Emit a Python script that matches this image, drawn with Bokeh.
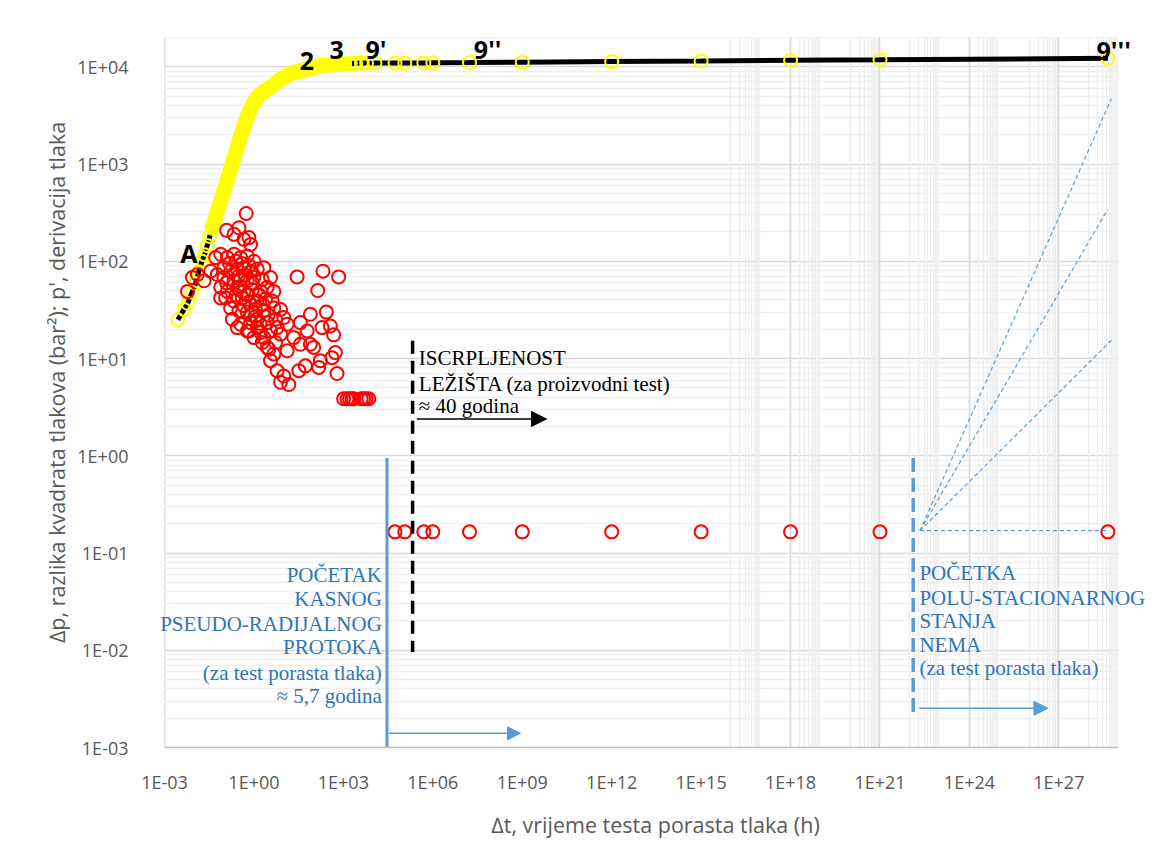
from bokeh.plotting import figure
from bokeh.models import (Range1d, FixedTicker, Grid, CustomJSTickFormatter, Label,
                          Arrow, NormalHead, BoxAnnotation)
from bokeh.embed import file_html
from bokeh.resources import INLINE

# ---------------- data ----------------
# pressure-squared difference (yellow), buildup time in hours
yellow_t = [0.0028, 0.0045, 0.006, 0.0085, 0.011, 0.014, 0.018, 0.022, 0.027, 0.033,
            0.04, 0.05, 0.06, 0.072, 0.087, 0.1, 0.12, 0.145, 0.17, 0.2,
            0.24, 0.29, 0.35, 0.42, 0.5, 0.6, 0.72, 0.85, 1.0, 1.2,
            1.5, 1.9, 2.4, 3.2, 4.0, 5.5, 7.5, 10, 15, 22,
            35, 55, 90, 150, 250, 400, 700, 1100, 1700, 2600,
            4000, 6000, 11500, 5.4e4, 1.15e5, 5.0e5, 1.0e6, 1.7e7, 1e9, 1e12,
            1e15, 1e18, 1e21, 4.4e28]
yellow_dp = [25, 32, 37, 48, 59, 78, 100, 117, 145, 180,
             220, 275, 330, 390, 470, 540, 640, 780, 920, 1090,
             1300, 1570, 1880, 2250, 2650, 3080, 3500, 3900, 4300, 4700,
             5100, 5430, 5690, 6030, 6310, 6760, 7410, 7760, 8320, 8710,
             9020, 9440, 9770, 10200, 10350, 10500, 10600, 10700, 10800, 10850,
             10900, 10900, 10900, 10900, 10950, 10950, 11000, 11050, 11150, 11300,
             11450, 11650, 11800, 12200]

# pressure derivative (red)
red_t = [0.0059, 0.0086, 0.0127, 0.0212, 0.0354, 0.052,
         0.55, 0.121, 0.314, 0.214, 0.678, 0.461, 0.771,
         28, 207, 693, 138,
         78, 268, 472, 366, 192, 36, 101, 537, 415, 169, 53, 149, 611, 32, 10, 14.8,
         7.8, 6.0, 3.6, 4.65, 2.78, 2.15, 7.8, 13, 21.7, 61, 13, 36, 78,
         0.0766, 0.128, 0.214, 0.357, 0.597, 1.0, 0.099, 0.165, 0.276, 0.461,
         0.771, 1.29, 2.15, 0.059, 0.099, 0.214, 0.357, 0.597, 1.0, 1.89,
         3.6, 0.0766, 0.128, 0.276, 0.461, 0.877, 1.67, 2.78, 4.65, 0.214,
         0.406, 0.678, 1.29, 2.45, 4.1, 0.165, 0.314, 0.597, 1.13, 2.15,
         4.65, 7.8, 0.188, 0.357, 0.771, 1.29, 2.78, 5.3, 10, 0.276,
         0.597, 1.67, 3.6, 6.0, 1.89, 3.16, 5.3, 1.29, 0.112, 0.0766,
         0.678, 1.0,
         0.15, 0.25, 0.4, 0.3, 0.5, 0.7, 0.9, 0.12, 0.35, 0.6, 1.5, 2.0, 1.1,
         0.45, 0.25, 3.0, 0.8, 1.6,
         1020, 1320, 1610, 1950, 2200, 3960, 4770, 5750, 7100,
         5.4e4, 1.15e5, 5.0e5, 1.0e6, 1.7e7, 1e9, 1e12, 1e15, 1e18, 1e21, 4.4e28]
red_dp = [49, 68, 73, 63, 79, 109,
          310, 208, 221, 189, 175, 168, 149,
          69, 79, 69, 50,
          28.5, 30, 17.5, 21.6, 20.8, 23.4, 13.0, 11.5, 10.2, 9.5, 8.4, 8.1, 7.0, 7.5, 6.6, 5.4,
          5.7, 7.5, 9.5, 11.1, 13.0, 16.4, 17.8, 22.5, 16.4, 19.2, 12.0, 14.0, 14.0,
          118, 109, 118, 109, 113, 100, 86, 79, 83, 86,
          79, 83, 86, 73, 68, 63, 65, 63, 68, 65,
          68, 54, 49, 54, 49, 51, 49, 54, 49, 39,
          42, 38, 39, 41, 39, 33, 31, 30, 32, 31,
          33, 32, 25.3, 22.5, 23.4, 20.8, 23.4, 25.3, 26.4, 20.8,
          19.2, 18.5, 19.2, 20.8, 14.6, 12.5, 14.6, 25.3, 42, 42,
          19.2, 16.4,
          95, 100, 95, 70, 72, 90, 60, 60, 55, 45, 45, 36, 27,
          35, 45, 28, 28, 23,
          3.85, 3.85, 3.85, 3.85, 3.85, 3.85, 3.85, 3.85, 3.85,
          0.165, 0.165, 0.165, 0.165, 0.165, 0.165, 0.165, 0.165, 0.165, 0.165, 0.165]

x_ticks = [1e-3, 1e0, 1e3, 1e6, 1e9, 1e12, 1e15, 1e18, 1e21, 1e24, 1e27]
x_tick_labels = ["1E-03", "1E+00", "1E+03", "1E+06", "1E+09", "1E+12", "1E+15",
                 "1E+18", "1E+21", "1E+24", "1E+27"]
y_ticks = [1e-3, 1e-2, 1e-1, 1e0, 1e1, 1e2, 1e3, 1e4]
y_tick_labels = ["1E-03", "1E-02", "1E-01", "1E+00", "1E+01", "1E+02", "1E+03", "1E+04"]

X_MIN, X_MAX = 1e-3, 1e29      # axis extent
Y_MIN, Y_MAX = 1e-3, 2e4

# ---------------- figure ----------------
# the frame is a little larger than the axes (room for texts that overhang the axes);
# the overhang is blanked out below
p = figure(width=1174, height=864, x_axis_type="log", y_axis_type="log",
           x_range=Range1d(3.39e-4, 2.565e30), y_range=Range1d(Y_MIN, 32100),
           output_backend="svg", toolbar_location=None,
           min_border_left=150, min_border_right=14, min_border_top=17, min_border_bottom=117)
p.outline_line_color = None
p.background_fill_color = "white"
p.border_fill_color = "white"

# grids
y_minor = [k * 10.0 ** n for n in range(-3, 5) for k in range(2, 10) if k * 10.0 ** n <= Y_MAX]
p.ygrid.ticker = FixedTicker(ticks=y_ticks, minor_ticks=y_minor)
p.ygrid.grid_line_color = "#D9D9D9"
p.ygrid.grid_line_width = 1.5
p.ygrid.minor_grid_line_color = "#F0F0F0"
p.ygrid.minor_grid_line_width = 1.5
p.xgrid.visible = False
x_minor_grid = [k * 10.0 ** n for n in (16, 18, 20, 22, 24, 26, 28) for k in range(1, 10)]
p.add_layout(Grid(dimension=0, ticker=FixedTicker(ticks=x_minor_grid),
                  grid_line_color="#EEEEEE", grid_line_width=1.5))
p.add_layout(Grid(dimension=0, ticker=FixedTicker(ticks=[1e18, 1e21, 1e24, 1e27]),
                  grid_line_color="#D9D9D9", grid_line_width=1.5))
# blank the overhang outside the axis extent (covers grid lines only)
for kw in (dict(left=X_MAX), dict(right=X_MIN), dict(bottom=Y_MAX * 1.003)):
    p.add_layout(BoxAnnotation(fill_color="white", fill_alpha=1.0, line_alpha=0,
                               level="underlay", **kw))
# left axis line at the axis minimum
p.segment(x0=[X_MIN], y0=[Y_MIN], x1=[X_MIN], y1=[Y_MAX], line_color="#BFBFBF",
          line_width=1.5, level="underlay")

fmt_code = """
let best = 0, d = 1e9;
for (let i = 0; i < tvals.length; i++) {
  const dd = Math.abs(Math.log10(tvals[i]) - Math.log10(tick));
  if (dd < d) { d = dd; best = i; }
}
return tlabels[best];
"""
p.xaxis.ticker = FixedTicker(ticks=x_ticks, minor_ticks=[])
p.yaxis.ticker = FixedTicker(ticks=y_ticks, minor_ticks=[])
p.xaxis.formatter = CustomJSTickFormatter(args=dict(tvals=x_ticks, tlabels=x_tick_labels), code=fmt_code)
p.yaxis.formatter = CustomJSTickFormatter(args=dict(tvals=y_ticks, tlabels=y_tick_labels), code=fmt_code)
p.xaxis.bounds = (X_MIN, X_MAX)
p.yaxis.bounds = (Y_MIN, Y_MAX)

for ax in (p.xaxis[0], p.yaxis[0]):
    ax.major_tick_line_color = None
    ax.minor_tick_line_color = None
    ax.axis_line_color = "#BFBFBF"
    ax.axis_line_width = 1.5
    ax.major_label_text_font = "Open Sans"
    ax.major_label_text_font_size = "18px"
    ax.major_label_text_color = "#595959"
    ax.axis_label_text_font = "Open Sans"
    ax.axis_label_text_font_size = "21.5px"
    ax.axis_label_text_font_style = "normal"
    ax.axis_label_text_color = "#595959"
p.yaxis.axis_line_color = None

p.xaxis.axis_label = "∆t, vrijeme testa porasta tlaka (h)"
p.yaxis.axis_label = "∆p, razlika kvadrata tlakova (bar²); p', derivacija tlaka"
p.xaxis.major_label_standoff = 16
p.yaxis.major_label_standoff = 16
p.xaxis.axis_label_standoff = 13
p.yaxis.axis_label_standoff = 3

# ---------------- series ----------------
band = [(t, v) for t, v in zip(yellow_t, yellow_dp) if 0.04 <= t <= 1100]
p.line(yellow_t, yellow_dp, line_color="black", line_width=5)
p.line([b[0] for b in band], [b[1] for b in band], line_color="#FFFF00", line_width=15,
       line_join="round", line_cap="round")
p.scatter(yellow_t, yellow_dp, marker="circle", size=13, fill_color=None,
          line_color="#FFFF00", line_width=2)
p.scatter(red_t, red_dp, marker="circle", size=13, fill_color=None,
          line_color="#FF0000", line_width=2)

# ---------------- annotations ----------------
BLUE = "#5B9BD5"
TBLUE = "#2E75B6"
p.segment(x0=[2.9e4], y0=[0.95], x1=[2.9e4], y1=[1e-3], line_color=BLUE, line_width=3)
p.segment(x0=[2.1e5], y0=[15.2], x1=[2.1e5], y1=[0.0096], line_color="black",
          line_width=3.5, line_dash="13 7")
p.segment(x0=[1.3e22], y0=[0.95], x1=[1.3e22], y1=[0.00204], line_color=BLUE,
          line_width=3.5, line_dash="14 6")
fan_x0 = 2.2e22
fan_y0 = 0.17
p.segment(x0=[fan_x0] * 4, y0=[fan_y0] * 4,
          x1=[5.8e28, 4.3e28, 6.3e28, 4.0e28], y1=[4700, 340, 15.8, 0.17],
          line_color=BLUE, line_width=1.2, line_dash="4 3")

p.add_layout(Arrow(end=NormalHead(size=15, fill_color="black", line_color="black"),
                   x_start=2.9e5, y_start=2.39, x_end=6.5e9, y_end=2.39,
                   line_color="black", line_width=1.5))
p.add_layout(Arrow(end=NormalHead(size=13, fill_color=BLUE, line_color=BLUE),
                   x_start=3.35e4, y_start=0.0014, x_end=8.7e8, y_end=0.0014,
                   line_color=BLUE, line_width=1.5))
p.add_layout(Arrow(end=NormalHead(size=14, fill_color=BLUE, line_color=BLUE),
                   x_start=2.1e22, y_start=0.00253, x_end=4.3e26, y_end=0.00253,
                   line_color=BLUE, line_width=1.5))


def lab(x, y, text, color, align="left", font="Liberation Serif", size="21px",
        style="normal"):
    p.add_layout(Label(x=x, y=y, text=text, text_color=color, text_align=align,
                       text_baseline="alphabetic", text_font=font,
                       text_font_size=size, text_font_style=style))


black_lines = ["ISCRPLJENOST", "LEŽIŠTA (za proizvodni test)", "≈ 40 godina"]
for txt, yy in zip(black_lines, [10.1, 5.5, 3.27]):
    lab(3.4e5, yy, txt, "black")

left_lines = ["POČETAK", "KASNOG", "PSEUDO-RADIJALNOG", "PROTOKA",
              "(za test porasta tlaka)", "≈ 5,7 godina"]
for txt, yy in zip(left_lines, [0.060, 0.034, 0.0188, 0.0107, 0.0059, 0.00336]):
    lab(1.95e4, yy, txt, TBLUE, align="right")

right_lines = ["POČETKA", "POLU-STACIONARNOG", "STANJA", "NEMA", "(za test porasta tlaka)"]
for txt, yy in zip(right_lines, [0.063, 0.0348, 0.0198, 0.0112, 0.0065]):
    lab(2.1e22, yy, txt, TBLUE)

point_labels = [("A", 0.0066, 121), ("2", 60, 11400), ("3", 590, 14700),
                ("9'", 12300, 15100), ("9''", 6.9e7, 15100), ("9'''", 6.9e28, 14700)]
for txt, xx, yy in point_labels:
    lab(xx, yy, txt, "black", align="center", font="Open Sans", size="25px", style="bold")

open("out.html", "w").write(file_html(p, INLINE))
